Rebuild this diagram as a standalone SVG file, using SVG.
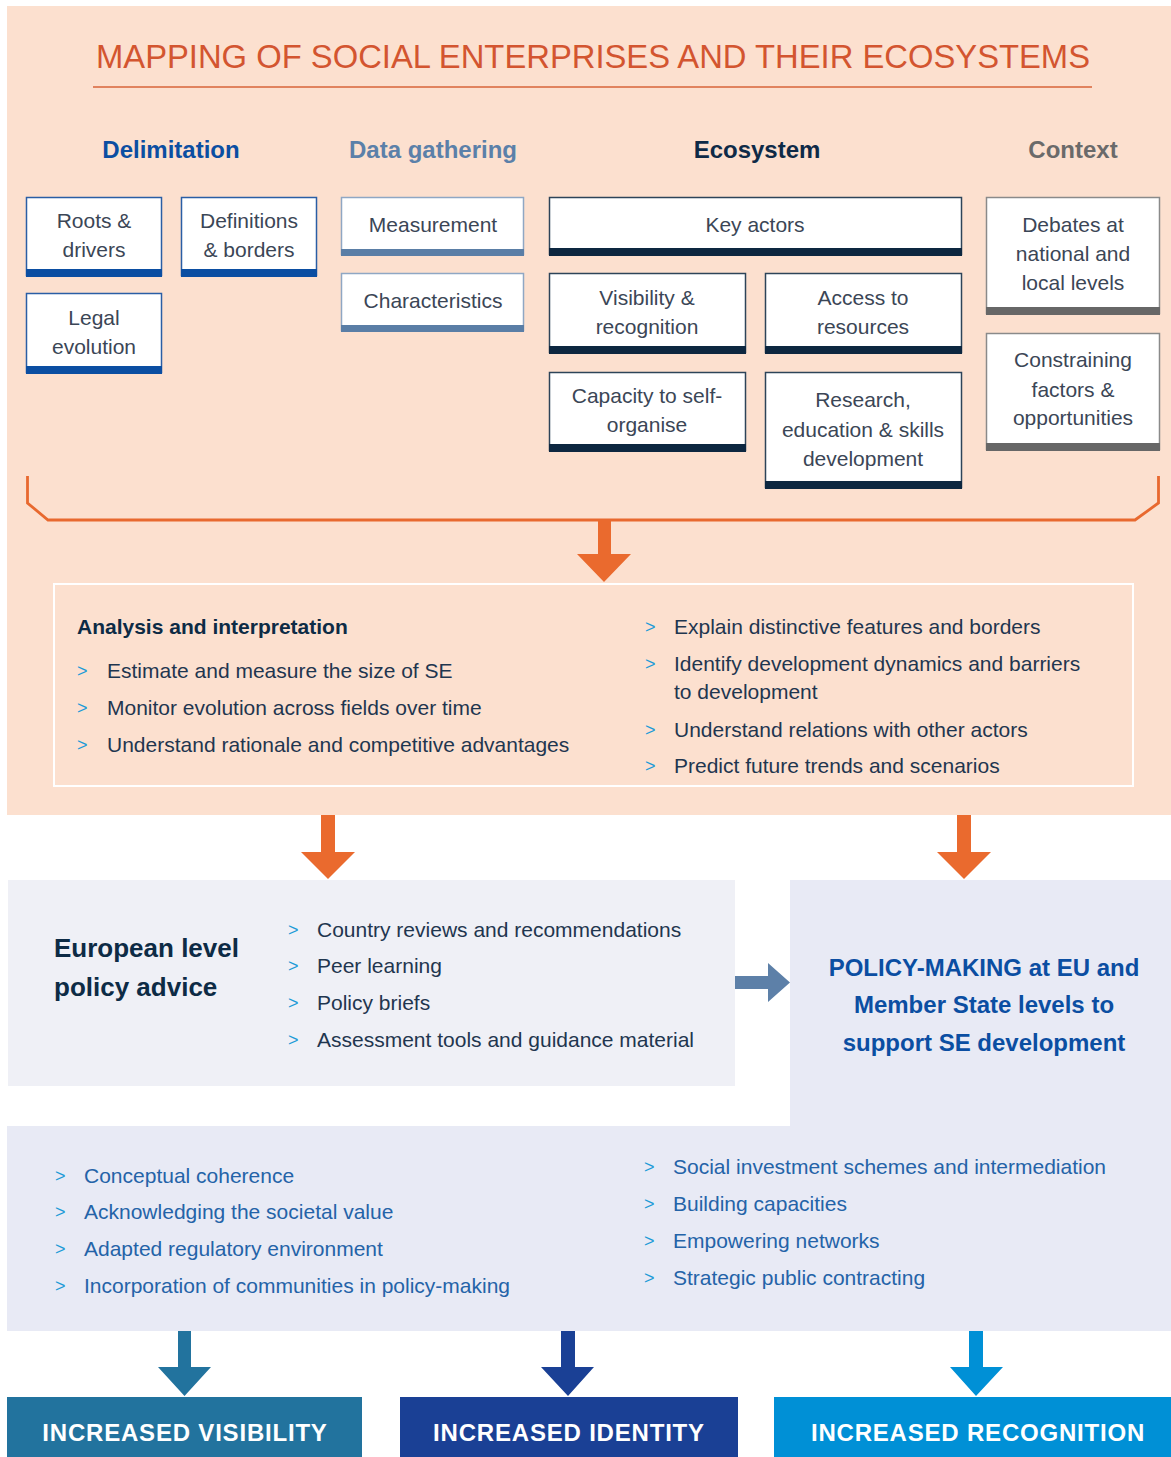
<svg xmlns="http://www.w3.org/2000/svg" width="1171" height="1457" viewBox="0 0 1171 1457">
<style>
text{font-family:"Liberation Sans",Arial,sans-serif}
.lbl{font-size:21px;fill:#3B4656;text-anchor:middle}
.hd{font-size:24px;font-weight:bold;text-anchor:middle}
.li{font-size:21px;fill:#1F364F}
.lb{font-size:21px;fill:#2463A8}
.bul{font-size:18px;fill:#1E9BD7}
.bx{fill:#fff;stroke-width:1.5}
.dl{stroke:#2A5EA5}.dg{stroke:#8FA7C4}.ec{stroke:#2D4459}.cx{stroke:#8A8A8A}
.out{font-size:24px;font-weight:bold;fill:#fff;text-anchor:middle;letter-spacing:0.8px}
</style>
<rect x="0" y="0" width="1171" height="1457" fill="#fff"/>
<rect x="7" y="6" width="1164" height="809" fill="#FCE0CF"/>

<g id="title">
<text x="593" y="68" font-size="34" fill="#D35530" text-anchor="middle" textLength="994" lengthAdjust="spacingAndGlyphs">MAPPING OF SOCIAL ENTERPRISES AND THEIR ECOSYSTEMS</text>
<line x1="93" y1="87" x2="1092" y2="87" stroke="#D9643A" stroke-width="1.5"/>
</g>

<g id="headings">
<text class="hd" x="171" y="158" fill="#0B4EA2">Delimitation</text>
<text class="hd" x="433" y="158" fill="#5B80A9">Data gathering</text>
<text class="hd" x="757" y="158" fill="#0E2A47">Ecosystem</text>
<text class="hd" x="1073" y="158" fill="#6A6A6A">Context</text>
</g>

<g id="roots">
<rect class="bx dl" x="26.5" y="197.5" width="135" height="78"/>
<rect x="26" y="269" width="136" height="8" fill="#0B4EA2"/>
<text class="lbl" x="94" y="228">Roots &amp;</text>
<text class="lbl" x="94" y="257">drivers</text>
</g>
<g id="definitions">
<rect class="bx dl" x="181.5" y="197.5" width="135" height="78"/>
<rect x="181" y="269" width="136" height="8" fill="#0B4EA2"/>
<text class="lbl" x="249" y="228">Definitions</text>
<text class="lbl" x="249" y="257">&amp; borders</text>
</g>
<g id="legal">
<rect class="bx dl" x="26.5" y="293.5" width="135" height="79"/>
<rect x="26" y="366" width="136" height="8" fill="#0B4EA2"/>
<text class="lbl" x="94" y="325">Legal</text>
<text class="lbl" x="94" y="354">evolution</text>
</g>

<g id="measurement">
<rect class="bx dg" x="341.5" y="197.5" width="182" height="57"/>
<rect x="341" y="249" width="183" height="7" fill="#5A7EA6"/>
<text class="lbl" x="433" y="232">Measurement</text>
</g>
<g id="characteristics">
<rect class="bx dg" x="341.5" y="273.5" width="182" height="57"/>
<rect x="341" y="325" width="183" height="7" fill="#5A7EA6"/>
<text class="lbl" x="433" y="308">Characteristics</text>
</g>

<g id="keyactors">
<rect class="bx ec" x="549.5" y="197.5" width="412" height="57"/>
<rect x="549" y="248" width="413" height="8" fill="#0D2740"/>
<text class="lbl" x="755" y="232">Key actors</text>
</g>
<g id="visibility">
<rect class="bx ec" x="549.5" y="273.5" width="196" height="79"/>
<rect x="549" y="346" width="197" height="8" fill="#0D2740"/>
<text class="lbl" x="647" y="305">Visibility &amp;</text>
<text class="lbl" x="647" y="334">recognition</text>
</g>
<g id="access">
<rect class="bx ec" x="765.5" y="273.5" width="196" height="79"/>
<rect x="765" y="346" width="197" height="8" fill="#0D2740"/>
<text class="lbl" x="863" y="305">Access to</text>
<text class="lbl" x="863" y="334">resources</text>
</g>
<g id="capacity">
<rect class="bx ec" x="549.5" y="372.5" width="196" height="78"/>
<rect x="549" y="444" width="197" height="8" fill="#0D2740"/>
<text class="lbl" x="647" y="403">Capacity to self-</text>
<text class="lbl" x="647" y="432">organise</text>
</g>
<g id="research">
<rect class="bx ec" x="765.5" y="372.5" width="196" height="115"/>
<rect x="765" y="481" width="197" height="8" fill="#0D2740"/>
<text class="lbl" x="863" y="407">Research,</text>
<text class="lbl" x="863" y="437">education &amp; skills</text>
<text class="lbl" x="863" y="466">development</text>
</g>

<g id="debates">
<rect class="bx cx" x="986.5" y="197.5" width="173" height="116"/>
<rect x="986" y="307" width="174" height="8" fill="#676767"/>
<text class="lbl" x="1073" y="232">Debates at</text>
<text class="lbl" x="1073" y="261">national and</text>
<text class="lbl" x="1073" y="290">local levels</text>
</g>
<g id="constraining">
<rect class="bx cx" x="986.5" y="333.5" width="173" height="116"/>
<rect x="986" y="443" width="174" height="8" fill="#676767"/>
<text class="lbl" x="1073" y="367">Constraining</text>
<text class="lbl" x="1073" y="397">factors &amp;</text>
<text class="lbl" x="1073" y="425">opportunities</text>
</g>

<g id="analysis">
<rect x="54" y="584" width="1079" height="202" fill="none" stroke="#fff" stroke-width="2"/>
<text x="77" y="634" font-size="21" font-weight="bold" fill="#0D2B45">Analysis and interpretation</text>
<text class="bul" x="77" y="677">&gt;</text><text class="li" x="107" y="678">Estimate and measure the size of SE</text>
<text class="bul" x="77" y="714">&gt;</text><text class="li" x="107" y="715">Monitor evolution across fields over time</text>
<text class="bul" x="77" y="751">&gt;</text><text class="li" x="107" y="752">Understand rationale and competitive advantages</text>
<text class="bul" x="645" y="633">&gt;</text><text class="li" x="674" y="634">Explain distinctive features and borders</text>
<text class="bul" x="645" y="670">&gt;</text><text class="li" x="674" y="671">Identify development dynamics and barriers</text>
<text class="li" x="674" y="699">to development</text>
<text class="bul" x="645" y="736">&gt;</text><text class="li" x="674" y="737">Understand relations with other actors</text>
<text class="bul" x="645" y="772">&gt;</text><text class="li" x="674" y="773">Predict future trends and scenarios</text>
</g>

<g id="policy-making">
<path d="M790 880 H1171 V1331 H7 V1126 H790 Z" fill="#E8EAF5"/>
<text x="984" y="976" font-size="24" font-weight="bold" fill="#0B4EA2" text-anchor="middle">POLICY-MAKING at EU and</text>
<text x="984" y="1013" font-size="24" font-weight="bold" fill="#0B4EA2" text-anchor="middle">Member State levels to</text>
<text x="984" y="1051" font-size="24" font-weight="bold" fill="#0B4EA2" text-anchor="middle">support SE development</text>
<text class="bul" x="55" y="1182">&gt;</text><text class="lb" x="84" y="1183">Conceptual coherence</text>
<text class="bul" x="55" y="1218">&gt;</text><text class="lb" x="84" y="1219">Acknowledging the societal value</text>
<text class="bul" x="55" y="1255">&gt;</text><text class="lb" x="84" y="1256">Adapted regulatory environment</text>
<text class="bul" x="55" y="1292">&gt;</text><text class="lb" x="84" y="1293">Incorporation of communities in policy-making</text>
<text class="bul" x="644" y="1173">&gt;</text><text class="lb" x="673" y="1174">Social investment schemes and intermediation</text>
<text class="bul" x="644" y="1210">&gt;</text><text class="lb" x="673" y="1211">Building capacities</text>
<text class="bul" x="644" y="1247">&gt;</text><text class="lb" x="673" y="1248">Empowering networks</text>
<text class="bul" x="644" y="1284">&gt;</text><text class="lb" x="673" y="1285">Strategic public contracting</text>
</g>

<g id="european">
<rect x="8" y="880" width="727" height="206" fill="#EFF0F6"/>
<text x="54" y="957" font-size="26" font-weight="bold" fill="#0D2B45">European level</text>
<text x="54" y="996" font-size="26" font-weight="bold" fill="#0D2B45">policy advice</text>
<text class="bul" x="288" y="936">&gt;</text><text class="li" x="317" y="937">Country reviews and recommendations</text>
<text class="bul" x="288" y="972">&gt;</text><text class="li" x="317" y="973">Peer learning</text>
<text class="bul" x="288" y="1009">&gt;</text><text class="li" x="317" y="1010">Policy briefs</text>
<text class="bul" x="288" y="1046">&gt;</text><text class="li" x="317" y="1047">Assessment tools and guidance material</text>
</g>

<g id="visibility-out">
<rect x="7" y="1397" width="355" height="60" fill="#22739E"/>
<text class="out" x="185" y="1441">INCREASED VISIBILITY</text>
</g>
<g id="identity-out">
<rect x="400" y="1397" width="338" height="60" fill="#1A4095"/>
<text class="out" x="569" y="1441">INCREASED IDENTITY</text>
</g>
<g id="recognition-out">
<rect x="774" y="1397" width="397" height="60" fill="#0090D6"/>
<text class="out" x="978" y="1441">INCREASED RECOGNITION</text>
</g>

<g id="connectors">
<path d="M27.5 476 V503 L48 520 H1135 L1158.5 503 V476" fill="none" stroke="#E8692F" stroke-width="2.8"/>
<path d="M598 520 H611 V554 H631 L604 582 L577 554 H598 Z" fill="#EA6A2E"/>
<path d="M321 815 H335 V852 H355 L328 879 L301 852 H321 Z" fill="#EA6A2E"/>
<path d="M957 815 H971 V852 H991 L964 879 L937 852 H957 Z" fill="#EA6A2E"/>
<path d="M735 976 H768 V963 L790 982.5 L768 1002 V989 H735 Z" fill="#5D80A8"/>
<path d="M178 1331 H191 V1367 H211 L184.5 1396 L158 1367 H178 Z" fill="#22739E"/>
<path d="M561 1331 H575 V1367 H594 L568 1396 L541 1367 H561 Z" fill="#1A4095"/>
<path d="M969 1331 H983 V1367 H1003 L976 1396 L950 1367 H969 Z" fill="#0090D6"/>
</g>
</svg>
